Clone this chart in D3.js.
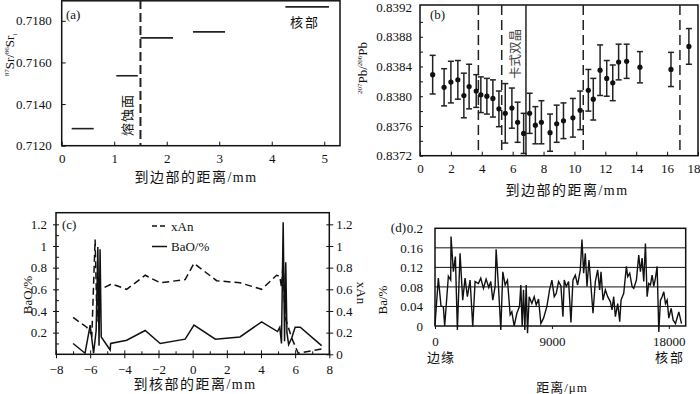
<!DOCTYPE html>
<html>
<head>
<meta charset="utf-8">
<script src="https://cdn.jsdelivr.net/npm/d3@7"></script>
<style>
  body { margin: 0; background: #fff; }
  svg { display: block; }
</style>
</head>
<body>
<div id="chart"></div>
<script>
// (a) Sr isotope segments
var srStart = [0.19, 1.04, 1.5, 2.5, 4.26];
var srEnd = [0.61, 1.45, 2.12, 3.11, 5.09];
var srValue = [0.71282, 0.71536, 0.71718, 0.71747, 0.71867];
var srTicks = [0.712, 0.714, 0.716, 0.718];

// (b) Pb isotopes with error bars
var pbDist = [0.82, 1.56, 2.0, 2.45, 2.84, 3.18, 3.64, 3.94, 4.33, 4.72, 5.11, 5.52, 5.95, 6.32, 6.71, 7.1, 7.47,
  7.86, 8.42, 8.85, 9.29, 9.9, 10.37, 10.9, 11.22, 11.66, 12.09, 12.48, 12.86, 13.38, 14.24, 16.25, 17.41];
var pbRatio = [0.83829, 0.83812, 0.83819, 0.83822, 0.83801, 0.83813, 0.83807, 0.83802, 0.8380, 0.83797, 0.83783,
  0.83777, 0.83784, 0.83765, 0.8375, 0.83777, 0.83761, 0.83765, 0.83751, 0.83763, 0.83767, 0.83771, 0.83781,
  0.83808, 0.83796, 0.83835, 0.83824, 0.83818, 0.83846, 0.83847, 0.83839, 0.83836, 0.83867];
var pbErr = [0.00026, 0.00025, 0.00028, 0.00026, 0.0003, 0.0003, 0.00022, 0.00024, 0.00024, 0.00025, 0.00024,
  0.0004, 0.00027, 0.00027, 0.00027, 0.00027, 0.00025, 0.00029, 0.00025, 0.00025, 0.00024, 0.00026, 0.00026,
  0.00028, 0.00028, 0.00034, 0.00024, 0.00024, 0.00024, 0.00023, 0.00021, 0.00023, 0.00024];
var pbDashed = [3.78, 5.29, 10.57, 16.83];
var pbTwin = 6.86;
var pbTicks = [0.8372, 0.8376, 0.8380, 0.8384, 0.8388, 0.8392];

// (c) BaO and xAn profiles
var baoX = [-7.0, -6.3, -6.0, -5.8, -5.65, -5.55, -5.48, -5.42, -5.35, -4.83, -4.8, -3.86, -2.78, -1.9, -0.44, 0.08,
  1.33, 2.77, 4.04, 4.97, 5.1, 5.2, 5.3, 5.38, 5.45, 5.52, 5.62, 5.8, 6.0, 6.3, 7.55];
var baoY = [0.10, 0.01, 0.27, 0.01, 0.22, 0.99, 0.08, 0.97, 0.16, 0.04, 0.10, 0.13, 0.22, 0.10, 0.14, 0.27,
  0.14, 0.16, 0.30, 0.21, 0.25, 0.10, 1.22, 0.12, 0.85, 0.2, 0.09, 0.15, 0.25, 0.25, 0.08];
var xanX = [-7.0, -6.2, -5.9, -5.71, -5.6, -5.52, -4.74, -3.86, -2.78, -1.9, -0.44, 0.08, 1.4, 2.77, 4.04, 4.91,
  5.1, 5.2, 5.3, 5.4, 5.8, 6.18, 7.55];
var xanY = [0.34, 0.25, 0.18, 1.06, 0.3, 0.59, 0.65, 0.60, 0.73, 0.66, 0.69, 0.84, 0.68, 0.66, 0.60, 0.73,
  0.72, 0.62, 0.85, 0.35, 0.15, 0.01, 0.05];
var cTicks = [0.2, 0.4, 0.6, 0.8, 1, 1.2];

// (d) Ba profile
var baDist = [0, 257, 463, 643, 746, 1029, 1209, 1234, 1414, 1569, 1723, 1929, 2134, 2314, 2494, 2700, 2906, 3086,
  3343, 3523, 3729, 3934, 4140, 4294, 4449, 4629, 4706, 4886, 5066, 5220, 5400, 5580, 5786, 5914, 6094, 6300,
  6506, 6609, 6711, 6814, 6917, 7020, 7123, 7251, 7457, 7637, 7791, 7971, 8151, 8357, 8614, 8820, 9000, 9180,
  9334, 9514, 9694, 9849, 9951, 10106, 10286, 10466, 10620, 10800, 10980, 11186, 11314, 11443, 11571, 11700,
  11854, 12009, 12163, 12343, 12523, 12677, 12780, 12934, 13114, 13294, 13500, 13629, 13757, 13886, 14066,
  14220, 14323, 14529, 14734, 14837, 14991, 15171, 15300, 15506, 15686, 15814, 15943, 16071, 16200, 16329,
  16457, 16586, 16714, 16843, 16971, 17100, 17229, 17357, 17486, 17614, 17743, 17871, 18000, 18180, 18334,
  18514, 18771, 18977];
var baValue = [0.002, 0.098, 0.041, 0.039, 0, 0.102, 0.094, 0.183, 0.111, 0.142, -0.008, 0.149, 0.053, 0.098,
  0.060, 0.094, -0.001, 0.091, 0.087, 0.098, 0.077, 0.096, 0.079, 0.091, 0.053, 0.081, 0.157, 0.081, -0.008,
  0.111, 0.084, 0.094, 0.023, 0.029, 0, 0.026, 0.040, 0.084, -0.001, 0.074, -0.008, 0.084, -0.015, 0.060, 0.046,
  0.060, 0.043, 0.055, 0.005, 0.016, 0.040, 0.074, 0.094, 0.060, 0.067, 0.091, 0.082, 0.019, 0.094, 0.081,
  0.091, 0.007, 0.094, 0.104, 0.084, 0.115, 0.177, 0.108, 0.149, 0.081, 0.135, 0.081, 0.026, 0.091, 0.115,
  0.074, 0.111, 0.053, 0.074, 0.060, 0.050, 0.033, 0.060, 0.019, 0.046, 0.009, 0.053, 0.067, 0.122, 0.101,
  0.108, 0.081, 0.077, 0.094, 0.145, 0.111, 0.139, 0.091, 0.169, 0.060, 0.087, 0.084, 0.104, 0.081, 0.098,
  0.122, -0.012, 0.053, 0.060, 0.070, 0.046, 0.053, 0.016, 0.036, 0.012, 0.005, 0.029, 0.005];
var baTicks = [0, 0.04, 0.08, 0.12, 0.16, 0.2];

var SERIF = "'Liberation Serif', 'Times New Roman', 'DejaVu Serif', serif";
var CJK = "'Liberation Serif', 'Noto Sans CJK SC', serif";

var svg = d3.select("#chart").append("svg")
  .attr("width", 700)
  .attr("height", 394)
  .attr("font-family", SERIF);

svg.append("rect").attr("width", 700).attr("height", 394).attr("fill", "#fff");

function frame(g, x0, y0, x1, y1) {
  g.append("rect")
    .attr("x", x0).attr("y", y0)
    .attr("width", x1 - x0).attr("height", y1 - y0)
    .attr("fill", "none").attr("stroke", "#111").attr("stroke-width", 1.5);
}

function label(g, x, y, txt, size, anchor) {
  return g.append("text")
    .attr("x", x).attr("y", y)
    .attr("font-size", size)
    .attr("font-family", SERIF)
    .attr("fill", "#111")
    .attr("text-anchor", anchor || "middle")
    .text(txt);
}

function cjk(g, x, y, txt, size, spacing) {
  return label(g, x, y, txt, size).attr("font-family", CJK).attr("letter-spacing", spacing || 0);
}

// axis styling, the d3 default is sans-serif
function tidy(s) {
  s.select(".domain").remove();
  s.attr("font-family", SERIF).attr("font-size", 13);
  s.selectAll("text").attr("fill", "#111");
  s.selectAll("line").attr("stroke", "#111");
}

// ---------------- (a) ----------------
var ga = svg.append("g");
var xa = d3.scaleLinear().domain([0, 5.3]).range([61.7, 340]);
var ya = d3.scaleLinear().domain([0.712, 0.719]).range([145.7, 0]);

ga.append("g")
  .attr("transform", "translate(0,145.7)")
  .call(d3.axisBottom(xa).tickValues([0, 1, 2, 3, 4, 5]).tickSize(-4).tickPadding(8).tickFormat(d3.format("d")))
  .call(tidy);
ga.append("g")
  .attr("transform", "translate(61.7,0)")
  .call(d3.axisLeft(ya).tickValues(srTicks).tickSize(-4).tickPadding(10).tickFormat(d3.format(".4f")))
  .call(tidy);
frame(ga, 61.7, 0.8, 340, 145.7);

ga.selectAll(".seg")
  .data(srValue)
  .enter()
  .append("line")
  .attr("x1", function(d, i) { return xa(srStart[i]); })
  .attr("x2", function(d, i) { return xa(srEnd[i]); })
  .attr("y1", function(d) { return ya(d); })
  .attr("y2", function(d) { return ya(d); })
  .attr("stroke", "#222").attr("stroke-width", 1.6);

ga.append("line")
  .attr("x1", xa(1.5)).attr("x2", xa(1.5))
  .attr("y1", 0).attr("y2", 145.7)
  .attr("stroke", "#222").attr("stroke-width", 2).attr("stroke-dasharray", "9,4");

label(ga, 66, 19, "(a)", 13, "start");
cjk(ga, 305, 27, "核部", 13, 2);
cjk(ga, 0, 0, "熔蚀面", 13, 1).attr("transform", "translate(132,115) rotate(-90)");
cjk(ga, 196, 182, "到边部的距离/mm", 14, 1.5);

var ta = label(ga, 0, 0, "", 13).attr("transform", "translate(14,55) rotate(-90)");
ta.append("tspan").attr("font-size", 7).attr("dy", -5).text("87");
ta.append("tspan").attr("dy", 5).text("Sr/");
ta.append("tspan").attr("font-size", 7).attr("dy", -5).text("86");
ta.append("tspan").attr("dy", 5).text("Sr");
ta.append("tspan").attr("font-size", 7).attr("dy", 3).text("i");

// ---------------- (b) ----------------
var gb = svg.append("g");
var xb = d3.scaleLinear().domain([0, 18]).range([420, 698]);
var yb = d3.scaleLinear().domain([0.8372, 0.8392]).range([155.7, 7]);

gb.append("g")
  .attr("transform", "translate(0,155.7)")
  .call(d3.axisBottom(xb).tickValues(d3.range(0, 19, 2)).tickSize(-4).tickPadding(8))
  .call(tidy)
  .call(function(s) {
    s.selectAll(".tick text").filter(function(d) { return d === 18; }).attr("text-anchor", "end").attr("x", 2);
  });
gb.append("g")
  .attr("transform", "translate(420,0)")
  .call(d3.axisLeft(yb).tickValues(pbTicks).tickSize(0).tickPadding(8).tickFormat(d3.format(".4f")))
  .call(tidy);
gb.append("g")
  .attr("transform", "translate(420,0)")
  .call(d3.axisLeft(yb).tickValues(d3.range(0.8372, 0.8392, 0.0002)).tickSize(-3).tickFormat(""))
  .call(tidy);
frame(gb, 420, 5, 698, 155.7);

pbDashed.forEach(function(v) {
  gb.append("line")
    .attr("x1", xb(v)).attr("x2", xb(v))
    .attr("y1", 5).attr("y2", 155.7)
    .attr("stroke", "#222").attr("stroke-width", 1.5).attr("stroke-dasharray", "10,5");
});
gb.append("line")
  .attr("x1", xb(pbTwin)).attr("x2", xb(pbTwin))
  .attr("y1", 5).attr("y2", 155.7)
  .attr("stroke", "#222").attr("stroke-width", 1.5);

var bars = gb.selectAll(".err")
  .data(pbRatio)
  .enter()
  .append("g");
bars.append("line")
  .attr("x1", function(d, i) { return xb(pbDist[i]); })
  .attr("x2", function(d, i) { return xb(pbDist[i]); })
  .attr("y1", function(d, i) { return yb(d + pbErr[i]); })
  .attr("y2", function(d, i) { return yb(d - pbErr[i]); })
  .attr("stroke", "#222").attr("stroke-width", 1.5);
[1, -1].forEach(function(sgn) {
  bars.append("line")
    .attr("x1", function(d, i) { return xb(pbDist[i]) - 3; })
    .attr("x2", function(d, i) { return xb(pbDist[i]) + 3; })
    .attr("y1", function(d, i) { return yb(d + sgn * pbErr[i]); })
    .attr("y2", function(d, i) { return yb(d + sgn * pbErr[i]); })
    .attr("stroke", "#222").attr("stroke-width", 1.5);
});
bars.append("circle")
  .attr("cx", function(d, i) { return xb(pbDist[i]); })
  .attr("cy", function(d) { return yb(d); })
  .attr("r", 2.6)
  .attr("fill", "#111");

label(gb, 430, 19, "(b)", 13, "start");
cjk(gb, 0, 0, "卡式双晶", 12.5).attr("fill", "#444").attr("transform", "translate(520,54) rotate(-90)");
cjk(gb, 567, 195, "到边部的距离/mm", 14, 1.5);

var tb = label(gb, 0, 0, "", 13).attr("transform", "translate(367,68) rotate(-90)");
tb.append("tspan").attr("font-size", 7).attr("dy", -5).text("207");
tb.append("tspan").attr("dy", 5).text("Pb/");
tb.append("tspan").attr("font-size", 7).attr("dy", -5).text("206");
tb.append("tspan").attr("dy", 5).text("Pb");

// ---------------- (c) ----------------
var gc = svg.append("g");
var xc = d3.scaleLinear().domain([-8, 8]).range([56, 329.3]);
var yc = d3.scaleLinear().domain([0, 1.3]).range([354.3, 213.5]);
var minus = function(d) { return d3.format("d")(d).replace("-", "\u2212"); };

gc.append("g")
  .attr("transform", "translate(0,354.3)")
  .call(d3.axisBottom(xc).tickValues(d3.range(-8, 9, 2)).tickSize(4).tickPadding(6).tickFormat(minus))
  .call(tidy)
  .call(function(s) { s.selectAll("line").attr("y1", -4); });
gc.append("g")
  .attr("transform", "translate(0,354.3)")
  .call(d3.axisBottom(xc).tickValues(d3.range(-7, 8, 2)).tickSize(-3).tickFormat(""))
  .call(tidy);
gc.append("g")
  .attr("transform", "translate(56,0)")
  .call(d3.axisLeft(yc).tickValues(cTicks).tickSize(3).tickPadding(6).tickFormat(d3.format("~g")))
  .call(tidy)
  .call(function(s) { s.selectAll("line").attr("x1", 3); });
gc.append("g")
  .attr("transform", "translate(56,0)")
  .call(d3.axisLeft(yc).tickValues(d3.range(0.1, 1.3, 0.2)).tickSize(-3).tickFormat(""))
  .call(tidy);
gc.append("g")
  .attr("transform", "translate(329.3,0)")
  .call(d3.axisRight(yc).tickValues([0].concat(cTicks)).tickSize(4).tickPadding(3).tickFormat(d3.format("~g")))
  .call(tidy)
  .call(function(s) { s.selectAll("line").attr("x1", -3); });
frame(gc, 56, 212.7, 329.3, 354.3);

var lineC = d3.line()
  .x(function(d) { return xc(d[0]); })
  .y(function(d) { return yc(d[1]); });

gc.append("path")
  .datum(xanX.map(function(v, i) { return [v, xanY[i]]; }))
  .attr("d", lineC)
  .attr("fill", "none").attr("stroke", "#111").attr("stroke-width", 1.5).attr("stroke-dasharray", "7,4");
gc.append("path")
  .datum(baoX.map(function(v, i) { return [v, baoY[i]]; }))
  .attr("d", lineC)
  .attr("fill", "none").attr("stroke", "#111").attr("stroke-width", 1.5);

// legend
gc.append("line").attr("x1", 152).attr("x2", 167).attr("y1", 226).attr("y2", 226)
  .attr("stroke", "#111").attr("stroke-width", 1.5).attr("stroke-dasharray", "5,3");
label(gc, 171, 230.5, "xAn", 13, "start");
gc.append("line").attr("x1", 152).attr("x2", 167).attr("y1", 246.5).attr("y2", 246.5)
  .attr("stroke", "#111").attr("stroke-width", 1.5);
label(gc, 171, 251, "BaO/%", 13, "start");

label(gc, 62, 229, "(c)", 13, "start");
label(gc, 0, 0, "BaO/%", 13).attr("transform", "translate(32,295) rotate(-90)");
label(gc, 0, 0, "xAn", 13).attr("transform", "translate(357,293) rotate(90)");
cjk(gc, 195, 389, "到核部的距离/mm", 14, 1.5);

// ---------------- (d) ----------------
var gd = svg.append("g");
var xd = d3.scaleLinear().domain([0, 19300]).range([435, 685.7]);
var yd = d3.scaleLinear().domain([0, 0.2]).range([326, 228.3]);

gd.selectAll(".grid")
  .data(baTicks.slice(1, 5))
  .enter()
  .append("line")
  .attr("x1", 435).attr("x2", 685.7)
  .attr("y1", function(d) { return yd(d); })
  .attr("y2", function(d) { return yd(d); })
  .attr("stroke", "#111").attr("stroke-width", 1);

gd.append("g")
  .attr("transform", "translate(0,326)")
  .call(d3.axisBottom(xd).tickValues([0, 9000, 18000]).tickSize(3).tickPadding(8).tickFormat(d3.format("d")))
  .call(tidy);
gd.append("g")
  .attr("transform", "translate(435,0)")
  .call(d3.axisLeft(yd).tickValues(baTicks).tickSize(0).tickPadding(12).tickFormat(d3.format("~g")))
  .call(tidy);
frame(gd, 435, 228.3, 685.7, 326);

gd.append("path")
  .datum(baDist.map(function(v, i) { return [v, baValue[i]]; }))
  .attr("d", d3.line()
    .x(function(d) { return xd(d[0]); })
    .y(function(d) { return yd(d[1]); }))
  .attr("fill", "none").attr("stroke", "#111").attr("stroke-width", 1.4);

label(gd, 406, 232, "(d)", 13, "end");
label(gd, 0, 0, "Ba/%", 13).attr("transform", "translate(387,300) rotate(-90)");
cjk(gd, 441, 362, "边缘", 13, 1);
cjk(gd, 670, 362, "核部", 13, 2);
cjk(gd, 562, 392, "距离/μm", 13, 1);
</script>
</body>
</html>
